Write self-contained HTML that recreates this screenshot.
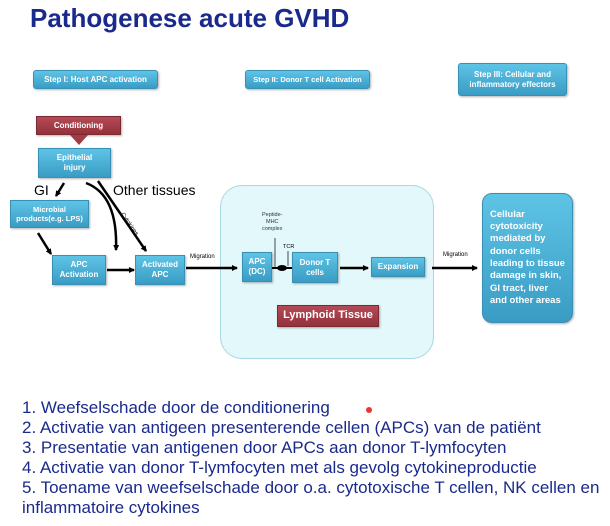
<!DOCTYPE html>
<html><head><meta charset="utf-8"><style>
body{margin:0;width:610px;height:526px;background:#fff;position:relative;overflow:hidden;font-family:"Liberation Sans",sans-serif}
.b{position:absolute;background:linear-gradient(#5ec4e6,#3a9cc4);color:#fff;font-weight:bold;font-size:8px;display:flex;align-items:center;justify-content:center;text-align:center;line-height:1.25;box-shadow:1px 1px 2px rgba(0,0,0,.3);border:1px solid #3a8fb5;box-sizing:border-box;white-space:nowrap}
.r{background:linear-gradient(#b54a55,#93323c);border-color:#7a2a30}
.t{position:absolute;white-space:nowrap}
</style></head><body>
<div class="t" style="left:30px;top:3px;font-size:26px;font-weight:bold;color:#1a2a8c">Pathogenese acute GVHD</div>
<div class="b" style="left:33px;top:70px;width:125px;height:19px;border-radius:3px">Step I: Host APC activation</div>
<div class="b" style="left:245px;top:70px;width:125px;height:19px;border-radius:3px;font-size:7.5px">Step II: Donor T cell Activation</div>
<div class="b" style="left:458px;top:63px;width:109px;height:33px;border-radius:3px;white-space:normal">Step III: Cellular and inflammatory effectors</div>
<div class="b r" style="left:36px;top:116px;width:85px;height:19px">Conditioning</div>
<div class="b" style="left:38px;top:148px;width:73px;height:30px">Epithelial<br>injury</div>
<div class="t" style="left:34px;top:182px;font-size:14px">GI</div>
<div class="t" style="left:113px;top:182px;font-size:14px">Other tissues</div>
<div class="b" style="left:10px;top:200px;width:79px;height:28px;font-size:7.5px">Microbial<br>products(e.g. LPS)</div>
<div class="b" style="left:52px;top:255px;width:54px;height:30px">APC<br>Activation</div>
<div class="b" style="left:135px;top:255px;width:50px;height:30px">Activated<br>APC</div>
<div style="position:absolute;left:220px;top:185px;width:212px;height:172px;background:#e2f8fb;border:1px solid #a8d8e0;border-radius:22px"></div>
<div class="b" style="left:242px;top:252px;width:30px;height:30px">APC<br>(DC)</div>
<div class="b" style="left:292px;top:252px;width:46px;height:31px">Donor T<br>cells</div>
<div class="b" style="left:371px;top:257px;width:54px;height:20px">Expansion</div>
<div class="b r" style="left:277px;top:305px;width:102px;height:22px;font-size:11px">Lymphoid Tissue</div>
<div class="b" style="left:482px;top:193px;width:91px;height:130px;border-radius:10px;font-size:9.5px;text-align:left;justify-content:flex-start;padding-left:7px;line-height:1.3">Cellular<br>cytotoxicity<br>mediated by<br>donor cells<br>leading to tissue<br>damage in skin,<br>GI tract, liver<br>and other areas</div>
<div class="t" style="left:190px;top:254px;font-size:6px">Migration</div>
<div class="t" style="left:443px;top:252px;font-size:6px">Migration</div>
<div class="t" style="left:262px;top:212px;font-size:5.5px;text-align:center;line-height:1.3;color:#333">Peptide-<br>MHC<br>complex</div>
<div class="t" style="left:283px;top:244px;font-size:5.5px">TCR</div>
<div class="t" style="left:124px;top:212px;font-size:6px;transform:rotate(55deg);transform-origin:left top">Cytokines</div>
<svg width="610" height="526" style="position:absolute;left:0;top:0">
<defs><marker id="a" markerWidth="6" markerHeight="6" refX="5" refY="3" orient="auto" markerUnits="userSpaceOnUse"><path d="M0,0L6,3L0,6z" fill="#000"/></marker></defs>
<polygon points="70,135 88,135 79,145" fill="#a33b45"/>
<g stroke="#000" stroke-width="2.5" fill="none" marker-end="url(#a)">
<line x1="64" y1="183" x2="56" y2="196"/>
<path d="M86,183 Q118,195 116,250" />
<line x1="98" y1="181" x2="146" y2="251"/>
<line x1="38" y1="233" x2="51" y2="254"/>
<line x1="107" y1="270" x2="134" y2="270"/>
<line x1="186" y1="268" x2="237" y2="268"/>
<line x1="340" y1="268" x2="368" y2="268"/>
<line x1="432" y1="268" x2="477" y2="268"/>
</g>
<line x1="272" y1="268" x2="292" y2="268" stroke="#000" stroke-width="2"/>
<ellipse cx="282" cy="268" rx="5" ry="3" fill="#000"/>
<line x1="275" y1="238" x2="275" y2="267" stroke="#000" stroke-width="0.7"/>
<line x1="288" y1="251" x2="288" y2="266" stroke="#000" stroke-width="0.7"/>
<circle cx="369" cy="410" r="3" fill="#e33"/>
</svg>
<div class="t" style="left:22px;top:398px;font-size:17px;line-height:20px;color:#1a2a8c">1. Weefselschade door de conditionering<br>2. Activatie van antigeen presenterende cellen (APCs) van de patiënt<br>3. Presentatie van antigenen door APCs aan donor T-lymfocyten<br>4. Activatie van donor T-lymfocyten met als gevolg cytokineproductie<br>5. Toename van weefselschade door o.a. cytotoxische T cellen, NK cellen en<br>inflammatoire cytokines</div>
</body></html>
